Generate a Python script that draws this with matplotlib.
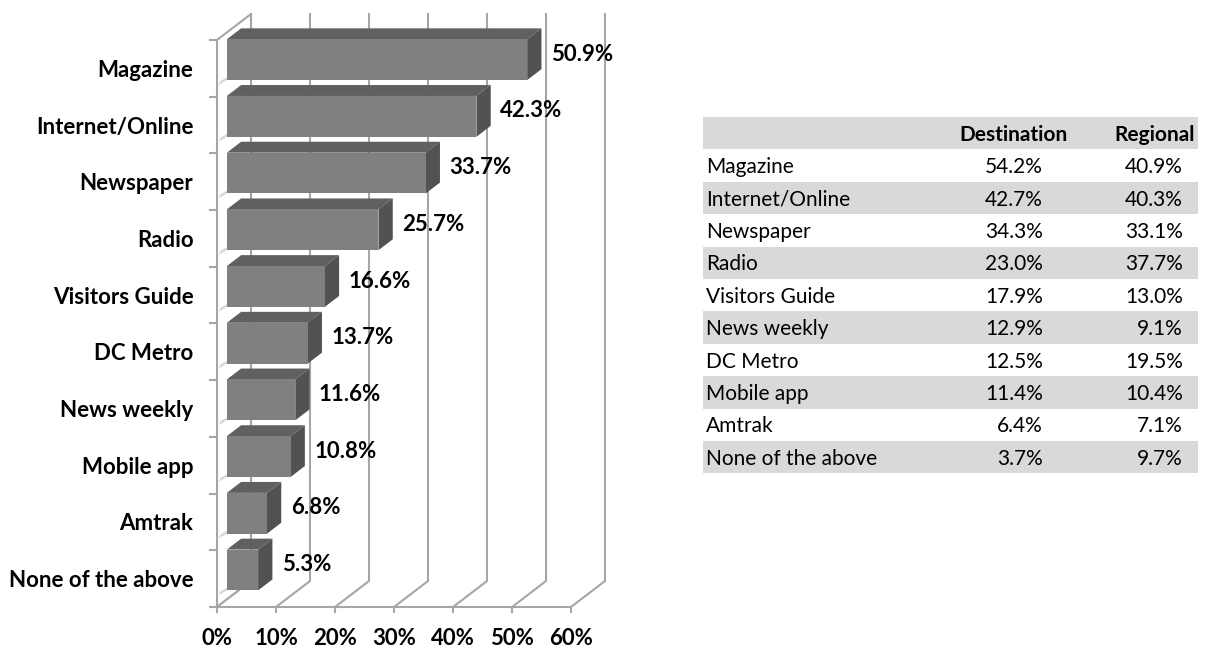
import numpy as np
import matplotlib
matplotlib.use('Agg')
import matplotlib.pyplot as plt
from matplotlib.patches import Polygon

plt.rcParams['font.family'] = ['Lato', 'DejaVu Sans']

# chart data (top to bottom as shown)
categories = ['Magazine', 'Internet/Online', 'Newspaper', 'Radio', 'Visitors Guide',
              'DC Metro', 'News weekly', 'Mobile app', 'Amtrak', 'None of the above']
overall = [50.9, 42.3, 33.7, 25.7, 16.6, 13.7, 11.6, 10.8, 6.8, 5.3]
x_ticks = [0, 10, 20, 30, 40, 50, 60]

# table data
table_rows = ['Magazine', 'Internet/Online', 'Newspaper', 'Radio', 'Visitors Guide',
              'News weekly', 'DC Metro', 'Mobile app', 'Amtrak', 'None of the above']
destination = [54.2, 42.7, 34.3, 23.0, 17.9, 12.9, 12.5, 11.4, 6.4, 3.7]
regional = [40.9, 40.3, 33.1, 37.7, 13.0, 9.1, 19.5, 10.4, 7.1, 9.7]

W, H = 1209, 647
fig = plt.figure(figsize=(W / 100, H / 100), dpi=100)

# ---- pseudo 3D bar chart ----
px_x = 5.9    # pixels per percent
px_y = 56.7   # pixels per category slot
x_max = 68.3
y_max = 10.53
ax = fig.add_axes([217 / W, 40 / H, x_max * px_x / W, y_max * px_y / H])
ax.set_xlim(0, x_max)
ax.set_ylim(0, y_max)

DX, DY = 34 / px_x, 26 / px_y     # depth offset
d0, d1 = 0.29, 0.71               # bar depth range
n = len(categories)
grid_c = '#a6a6a6'
big = 16

# left wall and floor
ax.add_patch(Polygon([(0, 0), (DX, DY), (DX, n + DY), (0, n)], closed=True,
                     facecolor='white', edgecolor=grid_c, lw=1.5, zorder=1))
ax.add_patch(Polygon([(0, 0), (60, 0), (60 + DX, DY), (DX, DY)], closed=True,
                     facecolor='white', edgecolor='none', zorder=1))
for t in x_ticks:
    ax.plot([t, t + DX, t + DX], [0, DY, n + DY], color=grid_c, lw=1.5, zorder=2,
            solid_joinstyle='miter')

# bars
h = 0.72
for i, (cat, v) in enumerate(zip(categories, overall)):
    c = n - 1 - i + 0.52
    y0, y1 = c - h / 2, c + h / 2
    # shadow on the left wall
    ax.add_patch(Polygon([(0.3, y0 + 0.05), (DX * d0, y0 + DY * d0), (DX * d1, y0 + DY * d1),
                          (0.6, y0 + 0.12)], closed=True, facecolor='#d8d8d8',
                         edgecolor='none', zorder=3))
    front = [(d0 * DX, y0 + d0 * DY), (v + d0 * DX, y0 + d0 * DY),
             (v + d0 * DX, y1 + d0 * DY), (d0 * DX, y1 + d0 * DY)]
    top = [(d0 * DX, y1 + d0 * DY), (v + d0 * DX, y1 + d0 * DY),
           (v + d1 * DX, y1 + d1 * DY), (d1 * DX, y1 + d1 * DY)]
    side = [(v + d0 * DX, y0 + d0 * DY), (v + d1 * DX, y0 + d1 * DY),
            (v + d1 * DX, y1 + d1 * DY), (v + d0 * DX, y1 + d0 * DY)]
    ax.add_patch(Polygon(top, closed=True, facecolor='#606060', edgecolor='none', zorder=4))
    ax.add_patch(Polygon(side, closed=True, facecolor='#525252', edgecolor='none', zorder=4))
    ax.add_patch(Polygon(front, closed=True, facecolor='#808080', edgecolor='none', zorder=5))
    ax.text(v + 0.5 * DX + 2.8, c + 0.5 * DY, f'{v:.1f}%', ha='left', va='center',
            fontsize=big, fontweight='bold', color='black', zorder=6)

for s in ['top', 'right']:
    ax.spines[s].set_visible(False)
for s in ['left', 'bottom']:
    ax.spines[s].set_color(grid_c)
    ax.spines[s].set_linewidth(1.5)
ax.spines['left'].set_bounds(0, n)
ax.spines['bottom'].set_bounds(0, 60)

ax.set_xticks(x_ticks)
ax.set_xticklabels([f'{t}%' for t in x_ticks], fontsize=big, fontweight='bold')
ax.tick_params(axis='x', length=4, width=1.5, color=grid_c, pad=11)
ax.set_yticks(np.arange(0, n + 1))
ax.set_yticklabels([])
ax.tick_params(axis='y', which='major', length=6, width=1.5, color=grid_c)
ax.set_yticks(np.arange(n) + 0.5, minor=True)
ax.set_yticklabels(categories[::-1], minor=True, fontsize=big, fontweight='bold')
ax.tick_params(axis='y', which='minor', length=0, pad=17)
ax.set_facecolor('none')

# ---- table ----
n_rows = len(table_rows) + 1
row_h = 32.4
tx0, ty0, tw = 703, 117, 495
tax = fig.add_axes([tx0 / W, (H - ty0 - n_rows * row_h) / H, tw / W, n_rows * row_h / H])
tax.set_xlim(0, tw)
tax.set_ylim(n_rows, 0)
tax.axis('off')

band = '#d9d9d9'
fs = 15
tax.axhspan(0, 1, color=band, lw=0)
tax.text(365, 0.55, 'Destination', ha='right', va='center', fontsize=fs, fontweight='bold')
tax.text(492, 0.55, 'Regional', ha='right', va='center', fontsize=fs, fontweight='bold')
for r, (name, d, g) in enumerate(zip(table_rows, destination, regional)):
    yy = r + 1
    if r % 2 == 1:
        tax.axhspan(yy, yy + 1, color=band, lw=0)
    tax.text(3, yy + 0.55, name, ha='left', va='center', fontsize=fs)
    tax.text(340, yy + 0.55, f'{d:.1f}%', ha='right', va='center', fontsize=fs)
    tax.text(480, yy + 0.55, f'{g:.1f}%', ha='right', va='center', fontsize=fs)

fig.savefig('out.png', dpi=100)
